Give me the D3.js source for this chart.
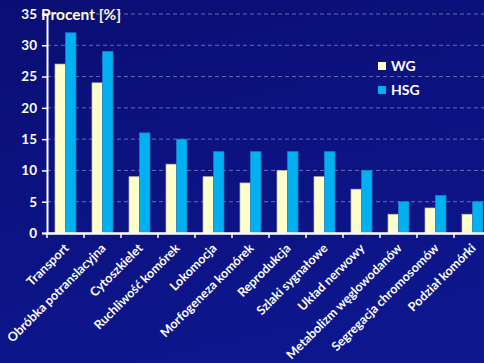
<!DOCTYPE html>
<html><head><meta charset="utf-8">
<script src="https://cdn.jsdelivr.net/npm/d3@7"></script>
<style>html,body{margin:0;padding:0;background:#0c1282;overflow:hidden}svg{display:block}</style>
</head><body>
<svg id="c" width="484" height="363"></svg>
<script>
const categories = ["Transport","Obróbka potranslacyjna","Cytoszkielet","Ruchliwość komórek","Lokomocja","Morfogeneza komórek","Reprodukcja","Szlaki sygnałowe","Układ nerwowy","Metabolizm węglowodanów","Segregacja chromosomów","Podział komórki"];
const seriesNames = ["WG","HSG"];
const wgValues = [27,24,9,11,9,8,10,9,7,3,4,3];
const hsgValues = [32,29,16,15,13,13,13,13,10,5,6,5];
const yTicks = [0,5,10,15,20,25,30,35];
const colors = ["#ffffcc","#00b0f0"];

const svg = d3.select("#c");
const W=484,H=363;
const defs = svg.append("defs");
const grad = defs.append("linearGradient").attr("id","bg").attr("x1",0).attr("y1",0).attr("x2",0.3).attr("y2",1);
grad.append("stop").attr("offset",0).attr("stop-color","#0a0e74");
grad.append("stop").attr("offset",1).attr("stop-color","#0d168c");
svg.append("rect").attr("width",W).attr("height",H).attr("fill","url(#bg)");

const x0=47, x1=47+12*37, yTop=14, yBot=233;
const x = d3.scaleBand().domain(categories).range([x0,x1]).paddingInner(0).paddingOuter(0);
const y = d3.scaleLinear().domain([0,35]).range([yBot,yTop]);
const xs = d3.scaleBand().domain(seriesNames).range([8,x.bandwidth()-8]).padding(0);

// gridlines
svg.append("g").selectAll("line").data(yTicks.filter(d=>d>0)).join("line")
  .attr("x1",x0).attr("x2",W).attr("y1",d=>y(d)).attr("y2",d=>y(d))
  .attr("stroke","#8f93c8").attr("stroke-width",1).attr("stroke-dasharray","4,3").attr("opacity",0.7);

// bars
const data = categories.map((c,i)=>({c, vals:[{s:"WG",v:wgValues[i]},{s:"HSG",v:hsgValues[i]}]}));
const g = svg.append("g").selectAll("g").data(data).join("g").attr("transform",d=>`translate(${x(d.c)},0)`);
g.selectAll("rect").data(d=>d.vals).join("rect")
  .attr("x",d=>xs(d.s)).attr("width",xs.bandwidth())
  .attr("y",d=>y(d.v)).attr("height",d=>y(0)-y(d.v))
  .attr("fill",(d,i)=>colors[i])
  .attr("stroke",(d,i)=>i===0?"#b8b8a8":"#1f7fc0").attr("stroke-width",0.7);

// y axis
const ya = svg.append("g").attr("transform",`translate(${x0},0)`)
  .call(d3.axisLeft(y).tickValues(yTicks).tickSize(5).tickPadding(5));
ya.select(".domain").attr("stroke","#fff").attr("stroke-width",2);
ya.selectAll(".tick line").attr("stroke","#fff").attr("stroke-width",1.5);
ya.selectAll("text").attr("fill","#fff").attr("font-family","Lato, 'Open Sans', sans-serif").attr("font-weight","bold").attr("font-size","13.5px");

// x axis
const xa = svg.append("g").attr("transform",`translate(0,${yBot})`)
  .call(d3.axisBottom(x).tickSize(0).tickPadding(0));
xa.select(".domain").attr("stroke","#fff").attr("stroke-width",2.5);
xa.selectAll(".tick line").remove();
svg.append("g").selectAll("line").data(d3.range(13)).join("line")
  .attr("x1",i=>x0+i*x.step()).attr("x2",i=>x0+i*x.step())
  .attr("y1",yBot).attr("y2",yBot+5).attr("stroke","#fff").attr("stroke-width",1.5);
xa.selectAll("text")
  .attr("fill","#fff").attr("font-family","Lato, 'Open Sans', sans-serif").attr("font-weight","bold").attr("font-size","12.5px")
  .attr("text-anchor","end").attr("dy","0")
  .attr("transform","translate(4,16) rotate(-45)");

// title
svg.append("text").attr("x",41).attr("y",20).text("Procent [%]")
  .attr("fill","#fff8d8").attr("font-family","Lato, 'Open Sans', sans-serif").attr("font-weight","bold").attr("font-size","15.5px");

// legend
const lg = svg.append("g").selectAll("g").data(seriesNames).join("g")
  .attr("transform",(d,i)=>`translate(378,${62+i*24})`);
lg.append("rect").attr("width",8).attr("height",8).attr("fill",(d,i)=>colors[i]);
lg.append("text").attr("x",13).attr("y",8.5).text(d=>d)
  .attr("fill","#fff").attr("font-family","Lato, 'Open Sans', sans-serif").attr("font-weight","bold").attr("font-size","14px");
</script>
</body></html>
